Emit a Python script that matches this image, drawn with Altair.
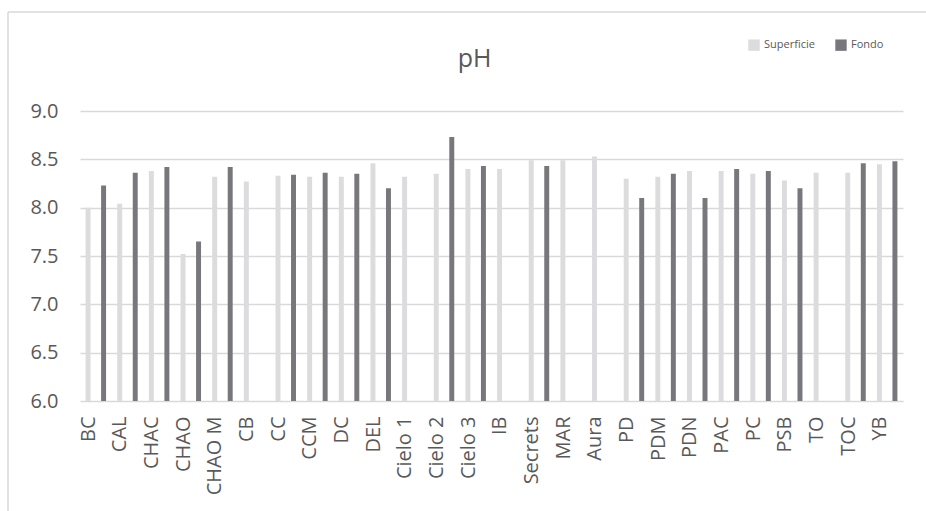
import altair as alt
import pandas as pd

categories = ["BC", "CAL", "CHAC", "CHAO", "CHAO M", "CB", "CC", "CCM", "DC", "DEL",
              "Cielo 1", "Cielo 2", "Cielo 3", "IB", "Secrets", "MAR", "Aura", "PD",
              "PDM", "PDN", "PAC", "PC", "PSB", "TO", "TOC", "YB"]
superficie = [8.00, 8.04, 8.38, 7.52, 8.32, 8.27, 8.33, 8.32, 8.32, 8.46,
              8.32, 8.35, 8.40, 8.40, 8.49, 8.49, 8.53, 8.30,
              8.32, 8.38, 8.38, 8.35, 8.28, 8.36, 8.36, 8.45]
fondo = [8.23, 8.36, 8.42, 7.65, 8.42, None, 8.34, 8.36, 8.35, 8.20,
         None, 8.73, 8.43, None, 8.43, None, None, 8.10,
         8.35, 8.10, 8.40, 8.38, 8.20, None, 8.46, 8.48]
series = ["Superficie", "Fondo"]
colors = ["#dcdcde", "#78787c"]
y_ticks = [6.0, 6.5, 7.0, 7.5, 8.0, 8.5, 9.0]
title_text = "pH"

rows = []
for i, c in enumerate(categories):
    rows.append({"Sitio": c, "Serie": "Superficie", "pH": superficie[i]})
    if fondo[i] is not None:
        rows.append({"Sitio": c, "Serie": "Fondo", "pH": fondo[i]})
df = pd.DataFrame(rows)

FONT = "Open Sans"
TXT = "#595959"

bars = alt.Chart(df).mark_bar(clip=True).encode(
    x=alt.X("Sitio:N", sort=categories,
            scale=alt.Scale(paddingInner=0, paddingOuter=0),
            axis=alt.Axis(title=None, labelAngle=-90, labelFontSize=20, labelFont=FONT,
                          labelColor=TXT, ticks=False, domain=False, labelPadding=15,
                          labelOffset=-7)),
    xOffset=alt.XOffset("Serie:N", sort=series,
                        scale=alt.Scale(paddingInner=0.68, paddingOuter=0.36)),
    y=alt.Y("pH:Q", scale=alt.Scale(domain=[6, 9], zero=False, nice=False),
            axis=alt.Axis(title=None, values=y_ticks, format=".1f", labelFontSize=20,
                          labelFont=FONT, labelColor=TXT, ticks=False, domain=False,
                          labelPadding=22, gridColor="#d9d9d9", gridWidth=1.5)),
    y2=alt.datum(6),
    color=alt.Color("Serie:N", sort=series,
                    scale=alt.Scale(domain=series, range=colors),
                    legend=alt.Legend(title=None, orient="none", direction="horizontal",
                                      legendX=668, legendY=-72, symbolType="square",
                                      symbolSize=130, symbolStrokeWidth=0,
                                      labelFontSize=11, labelFont=FONT, labelColor=TXT,
                                      labelOffset=4, columnPadding=20)),
)

one = pd.DataFrame({"t": [title_text]})
title_mark = alt.Chart(one).mark_text(
    font=FONT, fontSize=25, color=TXT, align="center", baseline="alphabetic"
).encode(text="t:N", x=alt.value(394.5), y=alt.value(-44))

top_line = alt.Chart(one).mark_rule(color="#d9d9d9", strokeWidth=1.5).encode(
    x=alt.value(-72), x2=alt.value(846), y=alt.value(-99))
left_line = alt.Chart(one).mark_rule(color="#d9d9d9", strokeWidth=1.5).encode(
    x=alt.value(-72), y=alt.value(-99), y2=alt.value(400))

chart = alt.layer(bars, title_mark, top_line, left_line).properties(
    width=823, height=290,
    autosize=alt.AutoSizeParams(type="none"),
    padding={"left": 80, "top": 111, "right": 23, "bottom": 110},
).configure(background="white").configure_view(strokeWidth=0)

chart.save("out.html", embed_options={"renderer": "svg", "actions": False})
